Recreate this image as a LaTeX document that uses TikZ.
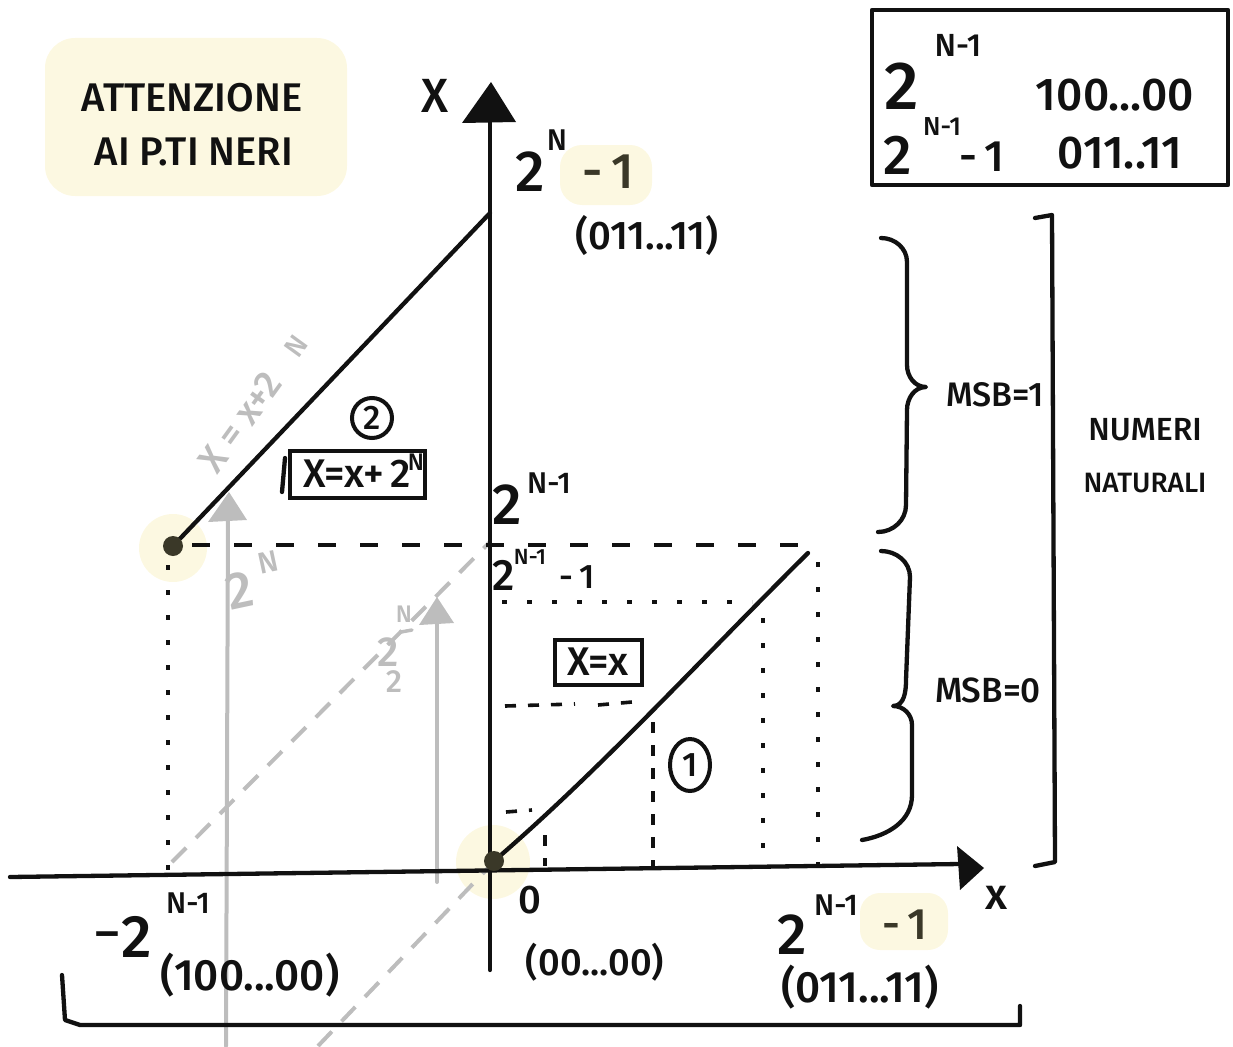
\documentclass[tikz,border=0pt]{standalone}
\usepackage{fontspec}
\setmainfont{Fira Sans Medium}
\usetikzlibrary{shapes.geometric}
\definecolor{ink}{HTML}{111111}
\definecolor{olive}{HTML}{3A3828}
\definecolor{hl}{HTML}{FCF8E1}
\definecolor{gr}{HTML}{BDBDBD}
\newcommand\hwsize[1]{\fontsize{#1}{#1}\selectfont}
\begin{document}
\begin{tikzpicture}[x=1pt,y=-1pt,
  inkline/.style={draw=ink, line width=4.3pt, line cap=round, line join=round},
  greyline/.style={draw=gr, line width=4pt, line cap=round},
  greydash/.style={draw=gr, line width=4pt, dash pattern=on 20pt off 14pt},
  longdash/.style={draw=ink, line width=3.6pt, dash pattern=on 18pt off 24pt},
  dotline/.style={draw=ink, line width=3.8pt, dash pattern=on 5pt off 20pt},
  shortdash/.style={draw=ink, line width=3.6pt, dash pattern=on 11pt off 12pt},
  lbl/.style={text=ink, inner sep=0pt, font=\hwsize{#1}},
  lbl/.default=40,
  olbl/.style={text=olive, inner sep=0pt, font=\hwsize{#1}},
  glbl/.style={text=gr, inner sep=0pt, font=\hwsize{#1}},
  framed/.style={draw=ink, line width=4pt, inner sep=0pt, font=\hwsize{#1}, text=ink}
]
\useasboundingbox (0,0) rectangle (1233,1046);

% ---------- highlights ----------
\fill[hl, rounded corners=30pt] (45,38) rectangle (347,196);
\fill[hl] (173,548) circle (34);
\fill[hl] (493,862) circle (37);
\fill[hl, rounded corners=22pt] (560,145) rectangle (652,205);
\fill[hl, rounded corners=20pt] (860,893) rectangle (948,950);

% ---------- coordinates ----------
\coordinate (d2) at (173,546);
\coordinate (top2) at (490,213);
\coordinate (o) at (494,861);
\coordinate (end1) at (808,553);
\coordinate (vbot) at (490,970);
\coordinate (vtop) at (490,122);
\coordinate (hleft) at (10,877);
\coordinate (hright) at (960,864);

% ---------- grey construction ----------
\draw[greydash] (172,862) -- (490,542);
\draw[greydash] (318,1046) -- (488,868);
\draw[greyline] (226,1046) -- (228,512);
\fill[gr] (208,522) -- (229,492) -- (247,520) -- cycle;
\draw[greyline] (437,882) -- (437,615);
\fill[gr] (419,625) -- (437,597) -- (454,623) -- cycle;
\node[glbl=38, rotate=54] (glab) at (240,422) {X = x+2};
\node[glbl=28, rotate=54] (glabN) at (296,346) {N};
\node[glbl=52, rotate=12] (g2) at (240,590) {2};
\node[glbl=30, rotate=12] (g2N) at (268,562) {N};
\node[glbl=42] (g2a) at (388,652) {2};
\node[glbl=24] (g2b) at (404,614) {N};
\draw[gr, line width=3.5pt, line cap=round] (401,632) -- (412,630);
\node[glbl=32] (g2c) at (394,682) {2};

% ---------- axes ----------
\draw[inkline] (vbot) -- (vtop);
\fill[ink] (462,123) -- (491,82) -- (516,122) -- cycle;
\draw[inkline] (hleft) -- (hright);
\fill[ink] (957,846) -- (984,868) -- (960,890) -- cycle;
\node[lbl=48] (Xlab) at (435,96) {X};
\node[lbl=44] (xlab) at (996,898) {x};

% ---------- dashed / dotted guides ----------
\draw[longdash] (192,545) -- (815,545);
\draw[dotline] (168,565) -- (168,872);
\draw[dotline] (818,562) -- (818,866);
\draw[dotline] (502,602) -- (752,602);
\draw[dotline] (763,618) -- (763,862);
\draw[shortdash] (653,722) -- (653,870);
\draw[shortdash] (505,706) -- (575,704);
\draw[shortdash] (598,705) -- (632,702);
\draw[shortdash] (506,812) -- (532,810);
\draw[shortdash] (545,835) -- (545,866);

% ---------- the two segments ----------
\draw[inkline] (d2) -- (top2);
\draw[inkline] (o) .. controls (600,770) and (700,660) .. (end1);
\fill[olive] (d2) circle (10);
\fill[olive] (o) circle (10);

% ---------- labels on axes ----------
\node[lbl=58] (t2) at (530,172) {2};
\node[lbl=30] (tN) at (557,140) {N};
\node[olbl=50] (tm1) at (608,172) {-\,1};
\node[lbl=40] (tbin) at (647,235) {(011...11)};

\node[lbl=58] (m2) at (507,505) {2};
\node[lbl=30] (mN) at (549,483) {N-1};
\node[lbl=44] (n2) at (504,575) {2};
\node[lbl=22] (nN) at (530,557) {N-1};
\node[lbl=34] (nm1) at (577,577) {-\,1};

\node[lbl=46] (bm) at (107,940) {–};
\node[lbl=60] (b2) at (137,937) {2};
\node[lbl=30] (bN) at (188,903) {N-1};
\node[lbl=44] (bbin) at (250,975) {(100...00)};
\node[lbl=40] (zero) at (530,900) {0};
\node[lbl=38] (zbin) at (595,962) {(00...00)};
\node[lbl=58] (r2) at (792,935) {2};
\node[lbl=30] (rN) at (836,905) {N-1};
\node[olbl=44] (rm1) at (905,925) {-\,1};
\node[lbl=44] (rbin) at (860,987) {(011...11)};

% ---------- boxes and circled numbers ----------
\node[framed=40, minimum width=87pt, minimum height=45pt] (bx1) at (598,662) {X=x};
\node[framed=40, minimum width=135pt, minimum height=47pt] (bx2) at (357,474) {X=x+\,2\hspace{14pt}};
\node[lbl=24] (bx2N) at (416,462) {N};
\draw[inkline] (285,458) -- (282,492);
\node[draw=ink, line width=4pt, circle, minimum size=40pt, inner sep=0pt, font=\hwsize{34}, text=ink] (c2) at (372,418) {2};
\node[draw=ink, line width=4pt, ellipse, minimum width=40pt, minimum height=52pt, inner sep=0pt, font=\hwsize{34}, text=ink] (c1) at (690,765) {1};

% ---------- note top left ----------
\node[lbl=40] (att1) at (192,98) {ATTENZIONE};
\node[lbl=40] (att2) at (194,152) {AI P.TI NERI};

% ---------- top right box ----------
\draw[inkline] (872,10) rectangle (1228,185);
\node[lbl=68] (k2a) at (902,86) {2};
\node[lbl=32] (kNa) at (958,45) {N-1};
\node[lbl=46] (kba) at (1115,95) {100...00};
\node[lbl=56] (k2b) at (898,155) {2};
\node[lbl=26] (kNb) at (942,127) {N-1};
\node[lbl=44] (km1) at (982,157) {-\,1};
\node[lbl=46] (kbb) at (1120,153) {011..11};

% ---------- braces and bracket ----------
\draw[inkline] (881,238) to[out=0,in=90] (907,262) -- (907,365)
  to[out=-90,in=180] (926,387) to[out=180,in=90] (907,410) -- (906,505)
  to[out=-90,in=0] (878,532);
\draw[inkline] (881,551) to[out=0,in=90] (910,577) -- (906,680)
  to[out=-90,in=0] (893,706) to[out=0,in=90] (912,725) -- (912,795)
  to[out=-90,in=10] (862,840);
\draw[inkline] (1035,218) -- (1052,215) -- (1055,862) -- (1035,866);
\node[lbl=34] (msb1) at (995,395) {MSB=1};
\node[lbl=35] (msb0) at (988,690) {MSB=0};
\node[lbl=32] (num1) at (1145,430) {NUMERI};
\node[lbl=28] (num2) at (1145,483) {NATURALI};

% ---------- bottom bracket ----------
\draw[inkline] (62,975) -- (65,1020) -- (80,1025) -- (1020,1025) -- (1020,1006);
\end{tikzpicture}
\end{document}
